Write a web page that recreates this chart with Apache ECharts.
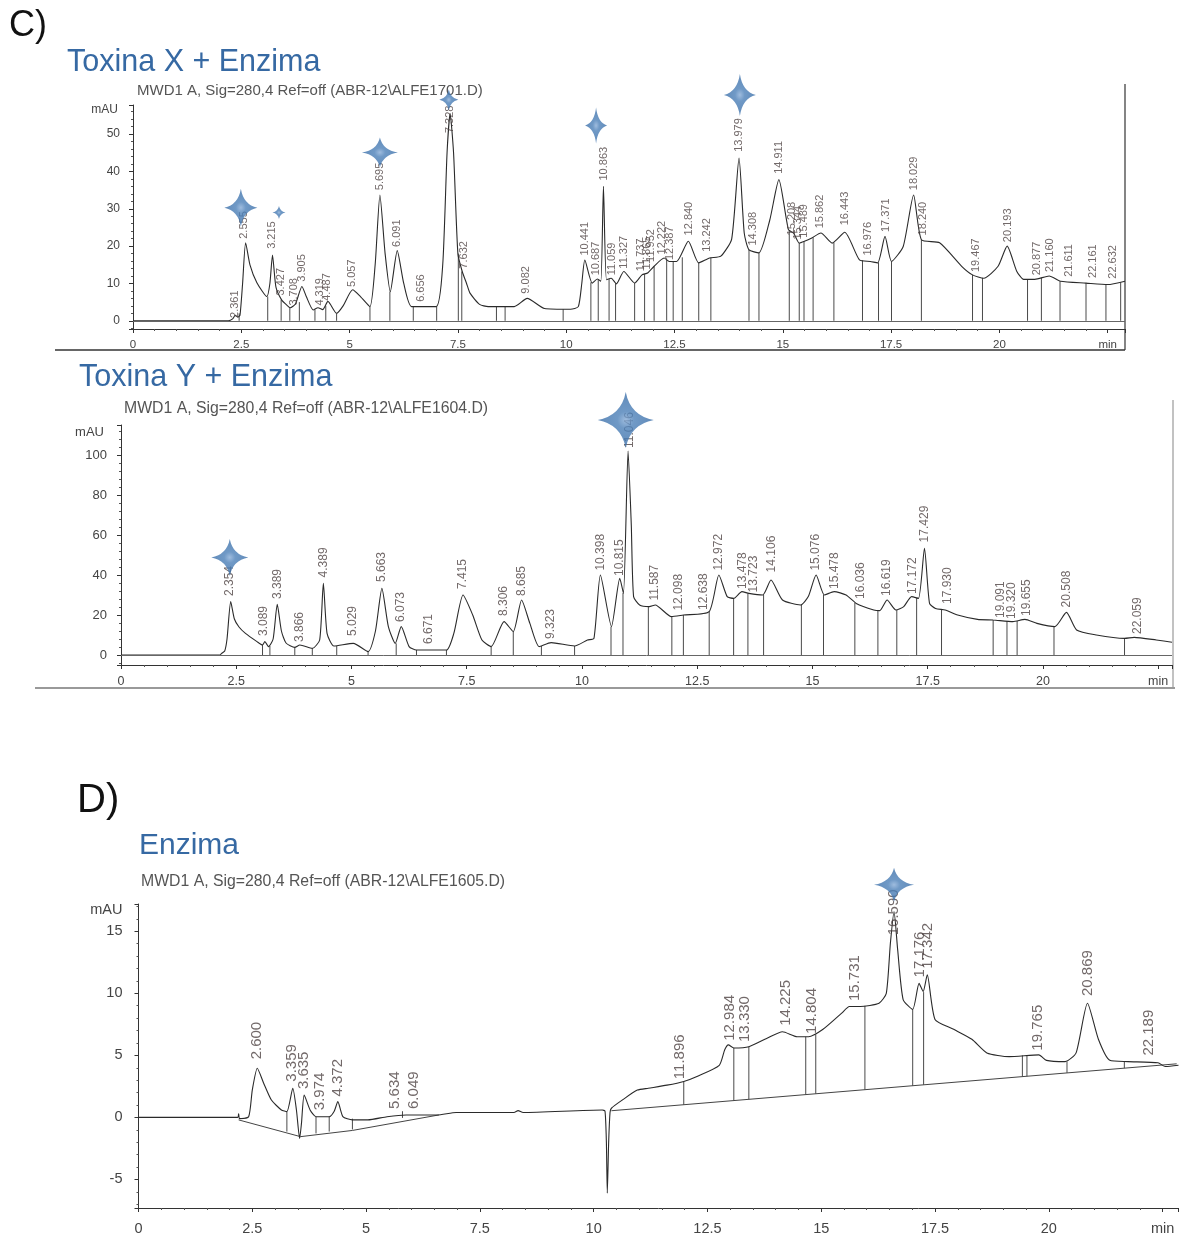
<!DOCTYPE html>
<html lang="es">
<head>
<meta charset="UTF-8">
<title>Cromatogramas Toxina X / Toxina Y / Enzima</title>
<style>
    * { margin: 0; padding: 0; }
    html, body { width: 100%; height: 100%; background: #fff; }
    #charts { width: 1188px; height: 1237px; }
</style>
<script src="https://cdn.jsdelivr.net/npm/echarts@6.0.0/dist/echarts.min.js"></script>
</head>
<body>
<div id="charts"></div>
<script>
    // ---------- Toxina X + Enzima (ALFE1701) : [min, mAU] ----------
    var traceX = [[0,0],[2.2,0],[2.3,0.5],[2.36,1.5],[2.42,1.0],[2.47,1.5],[2.53,10],[2.6,20.9],[2.7,15],[2.86,10.2],[3.09,6.5],
        [3.16,10],[3.22,17.6],[3.3,9],[3.43,5.6],[3.55,4.2],[3.63,3.5],[3.75,4.5],[3.9,9.2],[4.0,6.5],[4.16,2.9],[4.27,3.5],
        [4.38,3.0],[4.5,5.2],[4.7,2.0],[4.85,4],[5.07,8.3],[5.25,6.5],[5.47,3.8],[5.59,15],[5.7,33.7],[5.82,18],[5.94,7.8],
        [6.1,18.8],[6.25,10],[6.43,3.8],[7.0,3.8],[7.15,15],[7.25,45],[7.32,55.5],[7.4,45],[7.5,18],[7.6,13.2],[7.7,10],
        [7.78,7.4],[8.0,4.4],[8.2,3.8],[8.8,3.8],[9.1,6.0],[9.5,3.3],[10.1,3.1],[10.28,3.8],[10.36,10],[10.43,16.3],[10.6,10.1],
        [10.72,11.2],[10.8,10.6],[10.86,36.0],[10.93,11],[11.04,11.4],[11.16,9.9],[11.33,13.2],[11.58,10.1],[11.75,12.3],
        [11.88,12.8],[12.03,14.6],[12.26,16.8],[12.38,15.9],[12.55,15.9],[12.82,21.3],[13.06,15.5],[13.31,16.8],[13.57,17.3],
        [13.82,21.9],[13.99,43.6],[14.11,23.5],[14.22,19.0],[14.45,18.2],[14.7,27.0],[14.91,37.8],[15.13,24.4],[15.25,23.5],
        [15.38,20.8],[15.5,21.3],[15.67,22.2],[15.88,23.5],[16.14,20.8],[16.43,23.7],[16.77,16.3],[17.02,15.9],[17.19,15.5],
        [17.36,22.6],[17.51,15.9],[17.78,19.9],[18.02,33.7],[18.2,21.7],[18.62,20.9],[19.13,14.6],[19.38,12.3],[19.64,11.4],
        [19.97,14.6],[20.18,20.0],[20.4,13.3],[20.56,11.1],[20.82,11.1],[21.15,12.0],[21.41,10.6],[22.0,10.1],[22.5,9.7],[22.9,10.6]];
    // drop lines: [min, from, to]
    var dropX = [[2.45,0,2],[3.11,0,6.5],[3.42,0,5.6],[3.62,0,3.5],[3.84,0,5],[4.2,0,3.0],[4.45,0,4],[4.7,0,2.0],[5.47,0,3.8],
        [5.93,0,7.8],[6.47,0,3.8],[7.01,0,3.8],[7.51,0,18],[7.59,0,13.2],[8.39,0,3.8],[8.59,0,3.8],[9.93,0,3.1],[10.57,0,10.3],
        [10.74,0,11],[10.99,0,11.2],[11.14,0,10],[11.58,0,10.1],[11.81,0,12.5],[12.03,0,14.6],[12.32,0,16.3],[12.47,0,15.9],
        [12.68,0,17],[13.06,0,15.5],[13.34,0,16.9],[14.22,0,19.0],[14.45,0,18.2],[15.15,0,24.3],[15.38,0,20.8],[15.49,0,21.3],
        [15.7,0,22.4],[16.18,0,21],[16.84,0,16.2],[17.21,0,15.6],[17.51,0,15.9],[18.2,0,21.7],[19.38,0,12.3],[19.61,0,11.5],
        [20.65,0,11.1],[20.97,0,11.5],[21.4,0,10.6],[22.0,0,10.1],[22.46,0,9.7],[22.8,0,10.3]];
    var peaksX = ['2.361','2.555','3.215','3.427','3.708','3.905','4.319','4.487','5.057','5.695','6.091','6.656','7.328','7.632',
        '9.082','10.441','10.687','10.863','11.059','11.327','11.737','11.865','11.952','12.222','12.387','12.840','13.242',
        '13.979','14.308','14.911','15.208','15.344','15.489','15.862','16.443','16.976','17.371','18.029','18.240','19.467',
        '20.193','20.877','21.160','21.611','22.161','22.632'];
    var peakHX = [0.5,21.7,19,6.5,3.8,10.2,3.8,5.1,8.8,34.7,19.5,4.8,50,13.7,7,17.2,11.9,37.3,11.9,13.7,13.0,13.5,15.5,17.5,16,
        22.6,18.2,45,19.9,39.1,22.6,21.5,22,24.5,25.3,17.2,23.5,34.7,22.6,12.8,20.8,11.9,12.8,11.5,11.2,11.0];
    var starsX = [[2.49,30.3],[3.37,29],[5.70,45.1],[7.29,59.2],[10.69,52.3],[14.01,60.5]];

    // ---------- Toxina Y + Enzima (ALFE1604) ----------
    var traceY = [[0,0],[2.15,0],[2.18,0.8],[2.25,2],[2.3,8],[2.38,26.7],[2.46,18],[2.56,14],[2.7,10.8],[2.95,6.7],[3.07,5],
        [3.12,6.7],[3.2,4.2],[3.3,8],[3.39,25.3],[3.48,12],[3.58,6],[3.77,3.8],[3.88,5],[4.15,3.3],[4.31,7.5],[4.39,35.8],
        [4.47,10.8],[4.62,4.5],[5.04,5.8],[5.36,1.7],[5.52,12],[5.66,33.3],[5.8,14.2],[5.95,5.8],[6.08,14.2],[6.25,4.2],[6.41,2.5],
        [7.06,2.5],[7.22,10.8],[7.42,30],[7.63,20],[7.83,7.5],[8.03,4.2],[8.31,16.7],[8.51,11.7],[8.69,27.5],[8.87,15.8],
        [9.07,4.2],[9.33,6.2],[9.84,4.5],[10.12,7.5],[10.26,8.3],[10.4,40],[10.64,14.2],[10.82,38.3],[10.9,30.8],[11.0,102],
        [11.07,65],[11.12,29.2],[11.25,25],[11.46,24.2],[11.59,25],[11.94,19.2],[12.2,20],[12.76,21.7],[12.97,40],[13.15,29.2],
        [13.29,28.3],[13.47,31.7],[13.62,30.8],[13.92,30],[14.1,37.5],[14.35,27.5],[14.74,25],[14.91,29.2],[15.08,40],
        [15.26,30],[15.47,31.7],[15.73,30],[15.95,25.8],[16.33,22.5],[16.46,22.2],[16.62,27.5],[16.81,22.5],[16.98,24.2],
        [17.15,29.2],[17.3,28.3],[17.43,53.3],[17.54,25.8],[17.67,23.3],[17.88,22.5],[18.15,20],[18.58,17.8],[18.92,17.5],
        [19.35,16.7],[19.61,17.8],[19.87,15.8],[20.26,14.2],[20.51,21.3],[20.73,12.5],[21.16,10],[21.77,8.3],[21.98,8.8],
        [22.46,7.5],[22.8,6.4]];
    var dropY = [[3.07,0,5],[3.23,0,4.5],[3.77,0,3.8],[4.15,0,3.3],[4.68,0,4.5],[5.36,0,1.7],[5.97,0,5.8],[6.41,0,2.5],
        [7.06,0,2.5],[8.03,0,4.2],[8.51,0,11.7],[9.12,0,4.5],[9.84,0,4.5],[10.63,0,14.2],[10.89,0,31],[11.44,0,24.2],
        [11.95,0,19.2],[12.2,0,20],[12.76,0,21.7],[13.29,0,28.3],[13.6,0,30.8],[13.94,0,30],[14.76,0,25],[15.24,0,30],
        [15.92,0,26.2],[16.42,0,22.2],[16.83,0,22.5],[17.26,0,28.5],[17.8,0,22.8],[18.92,0,17.5],[19.22,0,17],[19.44,0,17],
        [20.24,0,14.2],[21.77,0,8.3]];
    var peaksY = ['2.354','3.089','3.389','3.866','4.389','5.029','5.663','6.073','6.671','7.415','8.306','8.685','9.323',
        '10.398','10.815','11.046','11.587','12.098','12.638','12.972','13.478','13.723','14.106','15.076','15.478','16.036',
        '16.619','17.172','17.429','17.930','19.091','19.320','19.655','20.508','22.059'];
    var peakHY = [29,9,27.5,6,38.3,9,36,16,5,32.5,19,29,7.5,41.7,39,103,26.7,21.7,22,41.7,32.5,30.8,40.8,41.7,32.5,27.5,29,
        30,55.8,25,18,17.5,19,23.3,10];
    var starsY = [[2.36,48.8],[10.95,117.5]];

    // ---------- Enzima (ALFE1605) ----------
    var traceE = [[0,0],[2.18,0],[2.2,0.3],[2.22,-0.1],[2.42,0.05],[2.5,2.2],[2.61,3.96],[2.75,2.76],[2.92,1.4],[3.14,0.6],
        [3.26,0.47],[3.39,2.35],[3.47,0.6],[3.54,-1.7],[3.58,-0.5],[3.64,1.8],[3.77,0.6],[3.9,0.06],[4.19,0.06],[4.3,0.5],
        [4.38,1.27],[4.49,0.06],[4.7,-0.2],[5.04,-0.2],[5.46,0.06],[5.88,0.2],[6.56,0.2],[6.98,0.4],[8.25,0.4],[8.34,0.55],
        [8.45,0.4],[10.19,0.6],[10.25,0.5],[10.28,-2],[10.3,-6.1],[10.33,-2],[10.36,0.4],[10.39,0.74],[10.63,1.4],[10.96,2.2],
        [11.2,2.35],[11.61,2.6],[11.98,2.9],[12.27,3.3],[12.76,4.2],[12.88,5.45],[12.96,5.85],[13.08,5.6],[13.41,5.7],
        [13.82,6.4],[14.15,6.9],[14.47,6.5],[14.72,6.5],[15.04,7.1],[15.45,8.4],[15.62,8.94],[15.86,8.94],[16.27,9.2],
        [16.43,10.0],[16.52,14.05],[16.6,16.6],[16.68,13.5],[16.8,9.5],[17.01,8.7],[17.15,10.8],[17.24,10.15],[17.33,11.5],
        [17.5,7.9],[17.91,7.1],[18.31,6.3],[18.64,5.2],[19.13,4.9],[19.78,5.04],[19.95,4.6],[20.36,4.5],[20.6,5.2],[20.85,9.2],
        [21.09,6.3],[21.34,4.6],[21.74,4.5],[22.4,4.4],[22.56,4.1],[22.85,4.2]];
    var baseE1 = [[2.2,-0.2],[3.56,-1.55],[4.7,-1.05],[6.6,0.2]];
    var baseE2 = [[10.39,0.54],[22.81,4.32]];
    var dropE = [[3.26,-1.14,0.47],[3.9,-1.29,0.06],[4.19,-1.14,0.06],[4.7,-0.97,-0.1],[5.8,-0.04,0.5],[11.98,1.02,2.9],
        [13.08,1.36,5.6],[13.41,1.46,5.7],[14.66,1.84,6.5],[14.88,1.91,6.7],[15.96,2.24,9.0],[17.01,2.55,8.7],[17.25,2.63,10.1],
        [19.42,3.29,5.0],[19.52,3.32,5.0],[20.4,3.59,4.5],[21.66,3.97,4.5]];
    var peaksE = ['2.600','3.359','3.635','3.974','4.372','5.634','6.049','11.896','12.984','13.330','14.225','14.804',
        '15.731','16.590','17.176','17.342','19.765','20.869','22.189'];
    var peakHE = [4.6,2.8,2.2,0.5,1.6,0.6,0.6,3.0,6.1,6.0,7.3,6.65,9.3,14.6,11.2,11.9,5.3,9.7,4.9];
    var starsE = [[16.6,18.75]];

    // ---------- styles ----------
    var starSizesX = [[33,38],[13,13],[36,30],[19,21],[22,36],[32,42]];
    var starSizesY = [[37,37],[56,56]];
    var starSizesE = [[40,34]];
    var FONT = 'Liberation Sans, Arial, sans-serif';
    var STAR = 'path://M0,-100 Q16,-16 100,0 Q16,16 0,100 Q-16,16 -100,0 Q-16,-16 0,-100 Z';
    var starColor = new echarts.graphic.RadialGradient(0.5, 0.5, 0.5, [
        {offset: 0, color: '#86abd6'},
        {offset: 0.3, color: '#4c80b8'},
        {offset: 1, color: '#3a6ea8'}
    ]);

    function xAxisOf(idx, max, fs, margin) {
        return {
            type: 'value', gridIndex: idx, min: 0, max: max, interval: 2.5,
            axisLine: {onZero: false, lineStyle: {color: '#333', width: 1}},
            axisTick: {length: 4, lineStyle: {color: '#333'}},
            minorTick: {show: true, splitNumber: 5, length: 2, lineStyle: {color: '#555'}},
            splitLine: {show: false},
            axisLabel: {
                color: '#444', fontSize: fs, fontFamily: FONT, margin: margin, showMaxLabel: false,
                formatter: function (v) { return v === 22.5 ? 'min' : String(v); }
            }
        };
    }
    function yAxisOf(idx, min, max, fs, margin, gap, pad) {
        return {
            type: 'value', gridIndex: idx, min: min, max: max, splitNumber: 5,
            name: 'mAU', nameLocation: 'end', nameGap: gap,
            nameTextStyle: {color: '#444', fontSize: fs, fontFamily: FONT, align: 'right', verticalAlign: 'middle', padding: [0, pad, 0, 0]},
            axisLine: {show: true, lineStyle: {color: '#333', width: 1}},
            axisTick: {show: true, length: 4, lineStyle: {color: '#333'}},
            minorTick: {show: true, splitNumber: 5, length: 2, lineStyle: {color: '#555'}},
            splitLine: {show: false},
            axisLabel: {color: '#444', fontSize: fs, fontFamily: FONT, margin: margin, showMinLabel: false, showMaxLabel: false}
        };
    }
    function traceSeries(idx, data, zeroLine) {
        var s = {
            type: 'line', xAxisIndex: idx, yAxisIndex: idx, data: data, symbol: 'none', smooth: 0.2,
            lineStyle: {color: '#2a2a2a', width: 1.1}, silent: true, z: 3
        };
        if (zeroLine) {
            s.markLine = {
                silent: true, symbol: 'none', label: {show: false},
                lineStyle: {color: '#666', width: 1, type: 'solid'}, data: [{yAxis: 0}]
            };
        }
        return s;
    }
    function baseSeries(idx, data) {
        return {
            type: 'line', xAxisIndex: idx, yAxisIndex: idx, data: data, symbol: 'none',
            lineStyle: {color: '#444', width: 1}, silent: true, z: 2
        };
    }
    function dropSeries(idx, data) {
        return {
            type: 'custom', xAxisIndex: idx, yAxisIndex: idx, data: data, silent: true, z: 2,
            encode: {x: 0, y: [1, 2]},
            renderItem: function (params, api) {
                var a = api.coord([api.value(0), api.value(1)]);
                var b = api.coord([api.value(0), api.value(2)]);
                return {type: 'line', shape: {x1: a[0], y1: a[1], x2: b[0], y2: b[1]}, style: {stroke: '#4a4a4a', lineWidth: 1}};
            }
        };
    }
    function labelSeries(idx, names, heights, fs) {
        var data = [];
        for (var i = 0; i < names.length; i++) {
            data.push({name: names[i], value: [parseFloat(names[i]), heights[i]]});
        }
        return {
            type: 'scatter', xAxisIndex: idx, yAxisIndex: idx, data: data, symbolSize: 0, silent: true, z: 4,
            label: {
                show: true, formatter: '{b}', position: 'top', distance: 1, rotate: 90,
                align: 'left', verticalAlign: 'middle',
                color: '#4f4444', fontSize: fs, fontFamily: FONT
            }
        };
    }
    function starSeries(idx, data, sizes) {
        var items = [];
        for (var i = 0; i < data.length; i++) {
            items.push({value: data[i], symbolSize: sizes[i]});
        }
        return {
            type: 'scatter', xAxisIndex: idx, yAxisIndex: idx, data: items, symbol: STAR,
            itemStyle: {color: starColor}, clip: false, silent: true, z: 6
        };
    }

    var option = {
        backgroundColor: '#fff',
        animation: false,
        title: [
            {text: 'C)', left: 9, top: 8, padding: 0, textStyle: {fontSize: 36, fontWeight: 'normal', color: '#111', fontFamily: FONT}},
            {text: 'Toxina X + Enzima', left: 67, top: 47, padding: 0, textStyle: {fontSize: 30.5, fontWeight: 'normal', color: '#3669a3', fontFamily: FONT}},
            {text: 'MWD1 A, Sig=280,4 Ref=off (ABR-12\\ALFE1701.D)', left: 137, top: 83, padding: 0, textStyle: {fontSize: 15, fontWeight: 'normal', color: '#555', fontFamily: FONT}},
            {text: 'Toxina Y + Enzima', left: 79, top: 362, padding: 0, textStyle: {fontSize: 30.5, fontWeight: 'normal', color: '#3669a3', fontFamily: FONT}},
            {text: 'MWD1 A, Sig=280,4 Ref=off (ABR-12\\ALFE1604.D)', left: 124, top: 401, padding: 0, textStyle: {fontSize: 15.8, fontWeight: 'normal', color: '#555', fontFamily: FONT}},
            {text: 'D)', left: 77, top: 781, padding: 0, textStyle: {fontSize: 40, fontWeight: 'normal', color: '#111', fontFamily: FONT}},
            {text: 'Enzima', left: 139, top: 831, padding: 0, textStyle: {fontSize: 30, fontWeight: 'normal', color: '#3669a3', fontFamily: FONT}},
            {text: 'MWD1 A, Sig=280,4 Ref=off (ABR-12\\ALFE1605.D)', left: 141, top: 874, padding: 0, textStyle: {fontSize: 15.8, fontWeight: 'normal', color: '#555', fontFamily: FONT}}
        ],
        grid: [
            {left: 133, top: 105, width: 992, height: 224},
            {left: 121, top: 425, width: 1051, height: 240},
            {left: 138.5, top: 904, width: 1040, height: 304}
        ],
        xAxis: [xAxisOf(0, 22.9, 11.5, 10), xAxisOf(1, 22.8, 12.5, 10), xAxisOf(2, 22.85, 14.5, 13)],
        yAxis: [yAxisOf(0, -2.2, 57.8, 12, 13, -5, 15), yAxisOf(1, -5, 115, 13, 14, -7, 17), yAxisOf(2, -7.3, 17.2, 14.5, 16, -6, 16)],
        graphic: [
            {type: 'line', shape: {x1: 55, y1: 350, x2: 1125, y2: 350}, style: {stroke: '#333', lineWidth: 1.5}},
            {type: 'line', shape: {x1: 1125, y1: 84, x2: 1125, y2: 350}, style: {stroke: '#333', lineWidth: 1.2}},
            {type: 'line', shape: {x1: 35, y1: 688, x2: 1175, y2: 688}, style: {stroke: '#999', lineWidth: 2}},
            {type: 'line', shape: {x1: 1173, y1: 400, x2: 1173, y2: 688}, style: {stroke: '#999', lineWidth: 1.2}}
        ],
        series: [
            dropSeries(0, dropX), traceSeries(0, traceX, true), labelSeries(0, peaksX, peakHX, 11), starSeries(0, starsX, starSizesX),
            dropSeries(1, dropY), traceSeries(1, traceY, true), labelSeries(1, peaksY, peakHY, 12), starSeries(1, starsY, starSizesY),
            baseSeries(2, baseE1), baseSeries(2, baseE2), dropSeries(2, dropE), traceSeries(2, traceE, false),
            labelSeries(2, peaksE, peakHE, 15), starSeries(2, starsE, starSizesE)
        ]
    };
    var myChart = echarts.init(document.getElementById('charts'));
    myChart.setOption(option);
</script>
</body>
</html>
